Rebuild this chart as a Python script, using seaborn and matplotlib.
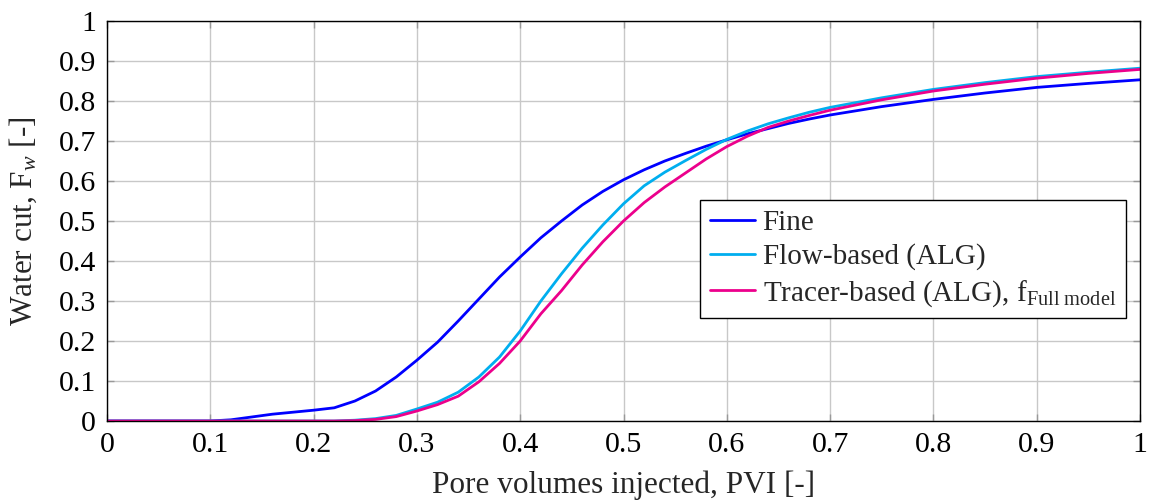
import matplotlib
matplotlib.use("Agg")
import matplotlib.pyplot as plt
import numpy as np
import pandas as pd
import seaborn as sns

# ---- data ----
pvi = [0.0, 0.02, 0.04, 0.06, 0.08, 0.10, 0.12, 0.14, 0.16, 0.18, 0.20, 0.22,
       0.24, 0.26, 0.28, 0.30, 0.32, 0.34, 0.36, 0.38, 0.40, 0.42, 0.44, 0.46,
       0.48, 0.50, 0.52, 0.54, 0.56, 0.58, 0.60, 0.62, 0.64, 0.66, 0.68, 0.70,
       0.75, 0.80, 0.85, 0.90, 0.95, 1.00]
fine = [0, 0, 0, 0, 0, 0, 0.003, 0.010, 0.017, 0.022, 0.027, 0.033,
        0.050, 0.075, 0.110, 0.152, 0.197, 0.250, 0.305, 0.360, 0.410, 0.458, 0.500, 0.540,
        0.574, 0.603, 0.628, 0.650, 0.669, 0.687, 0.703, 0.718, 0.731, 0.744, 0.755, 0.765,
        0.786, 0.804, 0.820, 0.834, 0.844, 0.853]
flow_based = [0, 0, 0, 0, 0, 0, 0, 0, 0, 0, 0, 0,
              0.002, 0.006, 0.014, 0.030, 0.047, 0.072, 0.110, 0.160, 0.225, 0.300, 0.368, 0.432,
              0.490, 0.543, 0.588, 0.622, 0.651, 0.679, 0.704, 0.725, 0.743, 0.758, 0.772, 0.784,
              0.808, 0.829, 0.846, 0.861, 0.872, 0.882]
tracer_based = [0, 0, 0, 0, 0, 0, 0, 0, 0, 0, 0, 0,
                0.001, 0.004, 0.011, 0.025, 0.041, 0.062, 0.098, 0.144, 0.200, 0.268, 0.326, 0.390,
                0.448, 0.500, 0.546, 0.585, 0.620, 0.655, 0.686, 0.712, 0.734, 0.750, 0.764, 0.777,
                0.803, 0.825, 0.842, 0.857, 0.869, 0.879]
series_names = ["Fine", "Flow-based (ALG)",
                r"Tracer-based (ALG), f$_{\mathrm{Full\ model}}$"]
tick_values = [0, 0.1, 0.2, 0.3, 0.4, 0.5, 0.6, 0.7, 0.8, 0.9, 1.0]
tick_labels = ["0", "0.1", "0.2", "0.3", "0.4", "0.5", "0.6", "0.7", "0.8", "0.9", "1"]

df = pd.DataFrame({
    "PVI": pvi * 3,
    "Fw": fine + flow_based + tracer_based,
    "Series": [series_names[0]] * len(pvi) + [series_names[1]] * len(pvi)
              + [series_names[2]] * len(pvi),
})

sns.set_theme(style="ticks")
plt.rcParams["font.family"] = ["Liberation Serif", "DejaVu Serif"]
plt.rcParams["mathtext.fontset"] = "custom"
plt.rcParams["mathtext.rm"] = "Liberation Serif"
plt.rcParams["mathtext.it"] = "Liberation Serif:italic"

fig = plt.figure(figsize=(11.49, 5.0), dpi=100)
ax = fig.add_axes([107 / 1149, 1 - 421 / 500, (1140 - 107) / 1149, 400 / 500])

palette = {series_names[0]: "#0000FF", series_names[1]: "#00AEEF",
           series_names[2]: "#EC008C"}
sns.lineplot(data=df, x="PVI", y="Fw", hue="Series", palette=palette,
             linewidth=2.0, ax=ax, legend=True)

ax.set_xlim(0, 1)
ax.set_ylim(0, 1)
ax.set_xticks(tick_values)
ax.set_xticklabels(tick_labels)
ax.set_yticks(tick_values)
ax.set_yticklabels(tick_labels)
ax.grid(True, color="#c8c8c8", linewidth=1.0)
ax.set_axisbelow(True)
ax.tick_params(direction="in", length=5, width=1.0, color="#999999",
               labelsize=21.5, top=True, right=True, labelcolor="black", pad=8)
for s in ax.spines.values():
    s.set_color("black")
    s.set_linewidth(1.0)

ax.set_xlabel("Pore volumes injected, PVI [-]", fontsize=22.5, labelpad=9)
ax.set_ylabel(r"Water cut, F$_{w}$ [-]", fontsize=22.5, labelpad=14)

leg = ax.legend(loc="upper right", bbox_to_anchor=(0.986, 0.553), fontsize=21,
                frameon=True, fancybox=False, edgecolor="black", framealpha=1,
                handlelength=1.55, handletextpad=0.25, labelspacing=0.26,
                borderpad=0.33, borderaxespad=0)
leg.get_frame().set_linewidth(1.0)
leg.set_title(None)

fig.savefig("out.png", dpi=100)
